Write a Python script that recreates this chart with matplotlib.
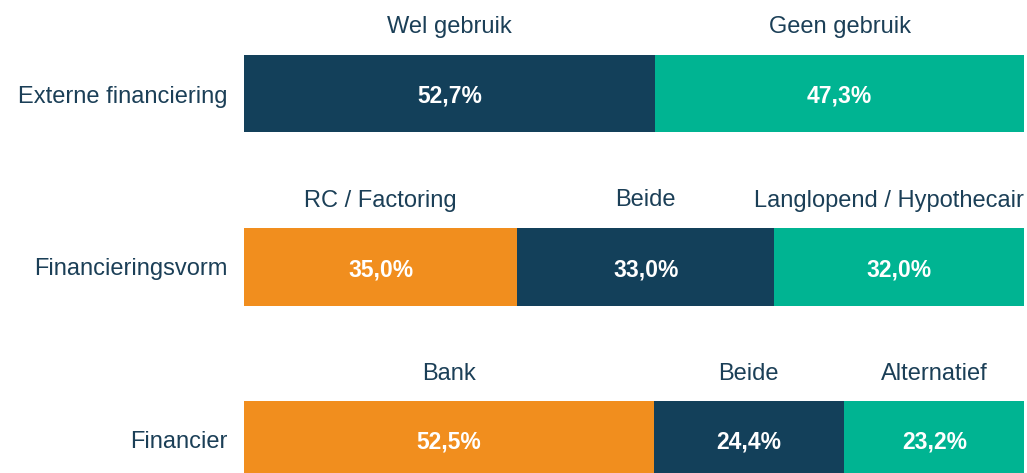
import matplotlib
matplotlib.use("Agg")
import matplotlib.pyplot as plt

plt.rcParams['font.family'] = ['Liberation Sans', 'DejaVu Sans']

rows = ["Externe financiering", "Financieringsvorm", "Financier"]
segment_labels = [
    ["Wel gebruik", "Geen gebruik"],
    ["RC / Factoring", "Beide", "Langlopend / Hypothecair"],
    ["Bank", "Beide", "Alternatief"],
]
segment_values = [
    [52.7, 47.3],
    [35.0, 33.0, 32.0],
    [52.5, 24.4, 23.2],
]
value_texts = [
    ["52,7%", "47,3%"],
    ["35,0%", "33,0%", "32,0%"],
    ["52,5%", "24,4%", "23,2%"],
]

NAVY = "#13405A"
TEAL = "#00B492"
ORANGE = "#F18E1E"
TEXT = "#1B3F57"
segment_colors = [
    [NAVY, TEAL],
    [ORANGE, NAVY, TEAL],
    [ORANGE, NAVY, TEAL],
]

W, H = 1027, 473
fig = plt.figure(figsize=(W / 100, H / 100), dpi=100)
ax = fig.add_axes([244 / W, 0, (1024 - 244) / W, 1])
ax.set_xlim(0, 100)
ax.set_ylim(2 + 33 / 173, -94 / 173)
ax.axis("off")

bar_h = 77 / 173
label_off = 69 / 173

fig.canvas.draw()
renderer = fig.canvas.get_renderer()

for i, row in enumerate(rows):
    left = 0
    for lab, val, txt, col in zip(segment_labels[i], segment_values[i], value_texts[i], segment_colors[i]):
        ax.barh(i, val, left=left, height=bar_h, color=col, edgecolor="none")
        c = left + val / 2
        ax.text(c, i, txt, ha="center", va="center_baseline", color="white",
                fontsize=16.5, fontweight="bold")
        t = ax.text(c, i - label_off, lab, ha="center", va="center_baseline", color=TEXT, fontsize=17)
        bb = t.get_window_extent(renderer=renderer)
        right_px = ax.transData.transform((100, 0))[0]
        if bb.x1 > right_px:
            t.set_ha("right")
            t.set_x(100)
        left += val
    ax.text(-16 / 780 * 100, i, row, ha="right", va="center_baseline", color=TEXT, fontsize=17)

fig.savefig("out.png", dpi=100)
